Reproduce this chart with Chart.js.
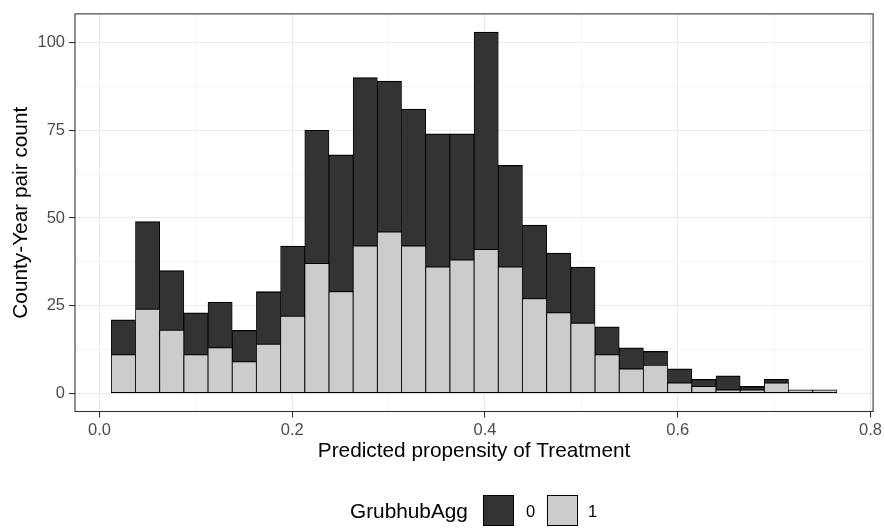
<!DOCTYPE html>
<html>
<head>
<meta charset="utf-8">
<title>Propensity histogram</title>
<script src="https://cdn.jsdelivr.net/npm/chart.js@4.4.1/dist/chart.umd.min.js"></script>
<style>
    body { margin: 0; background: #fff; font-family: 'Liberation Sans', Arial, sans-serif; }
    #wrap { position: relative; width: 885px; height: 529px; }
    #legend { position: absolute; left: 0; top: 495px; width: 885px; height: 32px; }
    #legend span, #legend i { position: absolute; top: 0; height: 32px; line-height: 32px; }
    .lg-title { font-size: 20.8px; color: #000; }
    .lg-label { font-size: 16.5px; color: #000; }
    .lg-key { width: 31px; height: 31px !important; box-sizing: border-box; border: 1.3px solid #000; }
</style>
</head>
<body>
<div id="wrap">
    <canvas id="chart"></canvas>
    <div id="legend">
        <span class="lg-title" style="left:350px">GrubhubAgg</span>
        <i class="lg-key" style="left:483px; background:#333333"></i>
        <span class="lg-label" style="left:526px">0</span>
        <i class="lg-key" style="left:547px; background:#CCCCCC"></i>
        <span class="lg-label" style="left:588px">1</span>
    </div>
</div>
<script>
// Histogram bins (centre of each bin on the propensity axis)
const binCenters = [
    0.0247, 0.0498, 0.0749, 0.1000, 0.1251, 0.1502, 0.1753, 0.2004, 0.2255, 0.2506,
    0.2757, 0.3008, 0.3259, 0.3510, 0.3761, 0.4012, 0.4263, 0.4514, 0.4765, 0.5016,
    0.5267, 0.5518, 0.5769, 0.6020, 0.6271, 0.6522, 0.6773, 0.7024, 0.7275, 0.7526
];

// Counts per bin, GrubhubAgg = 1 (stacked at the bottom)
const countsAgg1 = [
    11, 24, 18, 11, 13, 9, 14, 22, 37, 29,
    42, 46, 42, 36, 38, 41, 36, 27, 23, 20,
    11, 7, 8, 3, 2, 1, 1, 3, 1, 1
];

// Counts per bin, GrubhubAgg = 0 (stacked on top)
const countsAgg0 = [
    10, 25, 17, 12, 13, 9, 15, 20, 38, 39,
    48, 43, 39, 38, 36, 62, 29, 21, 17, 16,
    8, 6, 4, 4, 2, 4, 1, 1, 0, 0
];

// Axis ticks
const xMajorTicks = [0, 0.2, 0.4, 0.6, 0.8];
const xMinorTicks = [0.1, 0.3, 0.5, 0.7];
const yMajorTicks = [0, 25, 50, 75, 100];
const yMinorTicks = [12.5, 37.5, 62.5, 87.5];

const GRID = '#EBEBEB';
const INK = '#333333';
const TICK_TEXT = '#4D4D4D';
const FONT = "'Liberation Sans', Arial, sans-serif";

function tickList(major, minor) {
    return major.concat(minor).sort((a, b) => a - b).map(v => ({ value: v }));
}

function isMajor(list, v) {
    return list.some(m => Math.abs(m - v) < 1e-9);
}

// major grid lines are thicker, minor ones get no tick mark
function gridWidth(list) {
    return c => (c.tick && !isMajor(list, c.tick.value)) ? 0.55 : 1.1;
}
function tickMarkColor(list) {
    return c => (c.tick && !isMajor(list, c.tick.value)) ? 'rgba(0,0,0,0)' : INK;
}

// ggplot-style panel border around the plotting area
const panelBorder = {
    id: 'panelBorder',
    afterDraw(chart) {
        const { ctx, chartArea } = chart;
        ctx.save();
        ctx.strokeStyle = INK;
        ctx.lineWidth = 1.1;
        ctx.strokeRect(chartArea.left, chartArea.top,
            chartArea.right - chartArea.left, chartArea.bottom - chartArea.top);
        ctx.restore();
    }
};

const ctx = document.getElementById('chart').getContext('2d');
new Chart(ctx, {
    type: 'bar',
    data: {
        datasets: [{
            label: '1',
            data: binCenters.map((x, i) => ({ x: x, y: countsAgg1[i] })),
            backgroundColor: '#CCCCCC',
            borderColor: '#000000',
            borderWidth: { top: 0.85, bottom: 1.3, left: 0.85, right: 0.85 },
            borderSkipped: false,
            barPercentage: 1,
            categoryPercentage: 1
        }, {
            label: '0',
            data: binCenters.map((x, i) => ({ x: x, y: countsAgg0[i] })),
            backgroundColor: '#333333',
            borderColor: '#000000',
            borderWidth: { top: 1.3, bottom: 0.85, left: 0.85, right: 0.85 },
            borderSkipped: false,
            barPercentage: 1,
            categoryPercentage: 1
        }]
    },
    options: {
        responsive: true,
        maintainAspectRatio: false,
        animation: false,
        layout: {
            autoPadding: false,
            padding: { left: 0, right: 11, top: 6, bottom: 59.5 }
        },
        plugins: {
            legend: { display: false },
            tooltip: { enabled: false }
        },
        scales: {
            x: {
                type: 'linear',
                stacked: true,
                offset: false,
                min: -0.0255,
                max: 0.8027,
                afterBuildTicks: s => { s.ticks = tickList(xMajorTicks, xMinorTicks); },
                afterFit: s => { s.height = 58; },
                ticks: {
                    autoSkip: false,
                    maxRotation: 0,
                    padding: 3,
                    color: TICK_TEXT,
                    font: { family: FONT, size: 16.5 },
                    callback: v => isMajor(xMajorTicks, v) ? v.toFixed(1) : ''
                },
                grid: {
                    offset: false,
                    color: GRID,
                    lineWidth: gridWidth(xMajorTicks),
                    tickColor: tickMarkColor(xMajorTicks),
                    tickLength: 6,
                    tickWidth: 1.1
                },
                border: { display: false },
                title: {
                    display: true,
                    text: 'Predicted propensity of Treatment',
                    color: '#000',
                    font: { family: FONT, size: 20.8 },
                    padding: { top: 0, bottom: 5.8 }
                }
            },
            y: {
                stacked: true,
                min: -5.15,
                max: 108.15,
                afterBuildTicks: s => { s.ticks = tickList(yMajorTicks, yMinorTicks); },
                afterFit: s => { s.width = 75; },
                ticks: {
                    autoSkip: false,
                    padding: 4,
                    color: TICK_TEXT,
                    font: { family: FONT, size: 16.5 },
                    callback: v => isMajor(yMajorTicks, v) ? String(v) : ''
                },
                grid: {
                    color: GRID,
                    lineWidth: gridWidth(yMajorTicks),
                    tickColor: tickMarkColor(yMajorTicks),
                    tickLength: 6,
                    tickWidth: 1.1
                },
                border: { display: false },
                title: {
                    display: true,
                    text: 'County-Year pair count',
                    color: '#000',
                    font: { family: FONT, size: 20.8 },
                    padding: { top: 9, bottom: 0 }
                }
            }
        }
    },
    plugins: [panelBorder]
});
</script>
</body>
</html>
